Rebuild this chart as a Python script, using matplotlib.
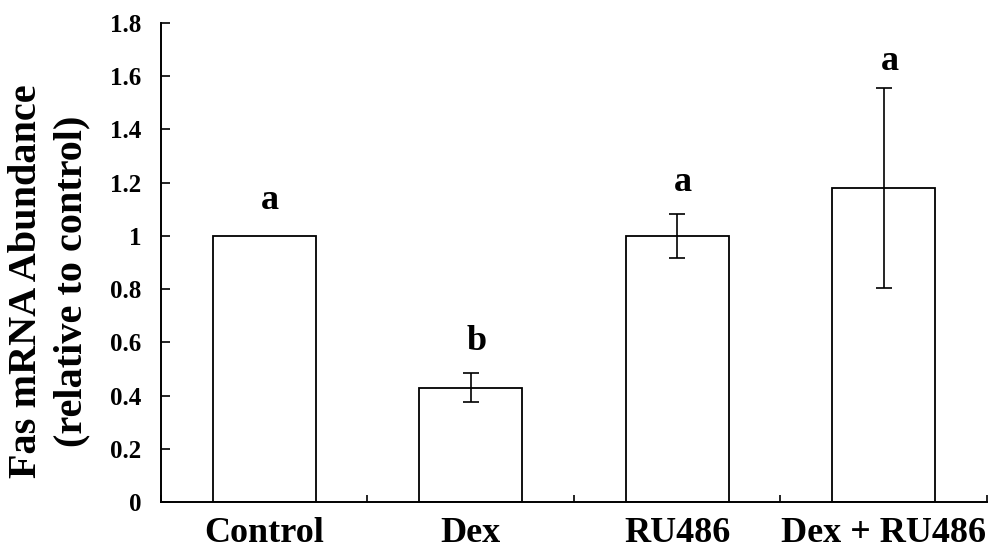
import numpy as np
import matplotlib.pyplot as plt
from matplotlib.ticker import FixedLocator

# data
groups = ['Control', 'Dex', 'RU486', 'Dex + RU486']
means = [1.0, 0.43, 1.0, 1.18]
errs = [0.0, 0.053, 0.083, 0.375]
letters = ['a', 'b', 'a', 'a']
letter_y = [1.10, 0.57, 1.17, 1.625]

plt.rcParams['font.family'] = ['Liberation Serif', 'DejaVu Serif']
plt.rcParams['font.weight'] = 'bold'

fig = plt.figure(figsize=(9.93, 5.5), dpi=100)
ax = fig.add_axes([0.162, 0.0873, 0.832, 0.871])

x = np.arange(len(groups))
ax.bar(x, means, width=0.5, color='white', edgecolor='black', linewidth=1.3, zorder=2)
for xi, m, e in zip(x, means, errs):
    if e > 0:
        ax.errorbar(xi, m, yerr=e, fmt='none', ecolor='black', elinewidth=1.2,
                    capsize=5.5, capthick=1.2, zorder=3)

for xi, t, ly in zip(x, letters, letter_y):
    ax.text(xi + 0.03, ly, t, ha='center', va='baseline', fontsize=26, fontweight='bold')

ax.set_xlim(-0.5, len(groups) - 0.5)
ax.set_ylim(0, 1.8)
ax.set_yticks(np.arange(0, 1.81, 0.2))
ax.yaxis.set_major_formatter(plt.FuncFormatter(lambda v, p: '%g' % round(v, 1)))

ax.xaxis.set_major_locator(FixedLocator(np.arange(-0.5, len(groups), 1.0)))
ax.xaxis.set_minor_locator(FixedLocator(x))
ax.set_xticklabels([])
ax.set_xticklabels(groups, minor=True)
ax.tick_params(axis='x', which='major', direction='in', length=5, width=1.2)
ax.tick_params(axis='x', which='minor', length=0, pad=11, labelsize=26)
ax.tick_params(axis='y', direction='in', length=6.5, width=1.2, pad=14, labelsize=18)

for s in ['top', 'right']:
    ax.spines[s].set_visible(False)
for s in ['left', 'bottom']:
    ax.spines[s].set_linewidth(1.4)

ax.set_ylabel('Fas mRNA Abundance\n(relative to control)', fontsize=29,
              fontweight='bold', linespacing=1.3)
ax.yaxis.set_label_coords(-0.085, 0.46)

fig.savefig('out.png', dpi=100)
